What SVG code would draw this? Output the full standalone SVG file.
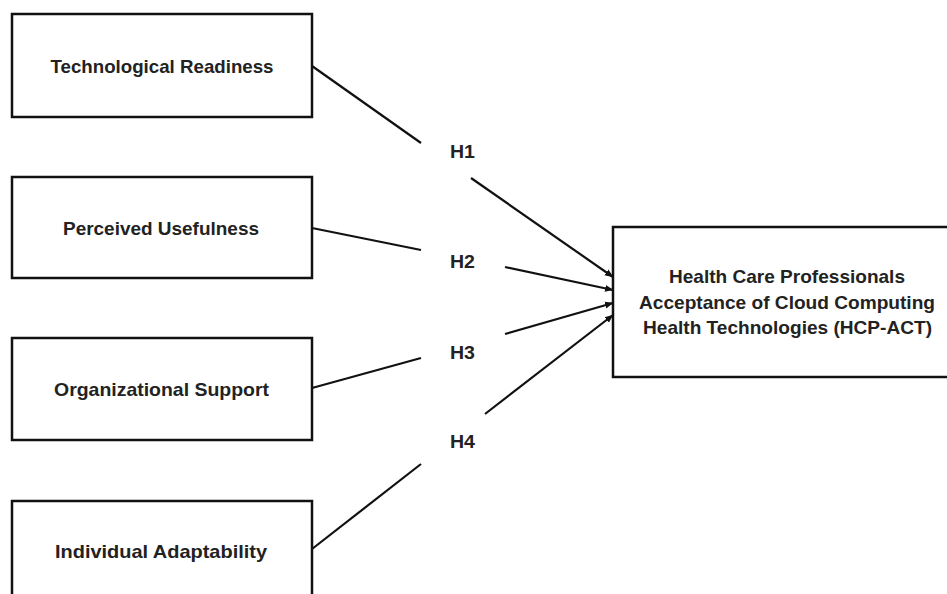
<svg xmlns="http://www.w3.org/2000/svg" width="947" height="594" viewBox="0 0 947 594">
<style>
.box{fill:#fff;stroke:#111;stroke-width:2.5}
.t{font-family:"Liberation Sans",Arial,sans-serif;font-weight:bold;font-size:19px;fill:#222;text-anchor:middle}
.h{font-family:"Liberation Sans",Arial,sans-serif;font-weight:bold;font-size:18px;fill:#222}
.c{stroke:#111;stroke-width:2.2;fill:none}
</style>
<defs>
<marker id="arr" markerWidth="9" markerHeight="9" refX="8" refY="4.5" orient="auto" markerUnits="userSpaceOnUse">
<path d="M0,1 L8.5,4.5 L0,8 Z" fill="#111"/>
</marker>
</defs>
<rect width="947" height="594" fill="#fff"/>
<g id="n1">
<rect class="box" x="12" y="14" width="300" height="103"/>
<text class="t" x="162" y="73" textLength="223" lengthAdjust="spacingAndGlyphs">Technological Readiness</text>
</g>
<g id="n2">
<rect class="box" x="12" y="177" width="300" height="101"/>
<text class="t" x="161" y="235" textLength="196" lengthAdjust="spacingAndGlyphs">Perceived Usefulness</text>
</g>
<g id="n3">
<rect class="box" x="12" y="338" width="300" height="102"/>
<text class="t" x="161.5" y="396" textLength="215" lengthAdjust="spacingAndGlyphs">Organizational Support</text>
</g>
<g id="n4">
<rect class="box" x="12" y="501" width="300" height="110"/>
<text class="t" x="161" y="558" textLength="212" lengthAdjust="spacingAndGlyphs">Individual Adaptability</text>
</g>
<g id="n5">
<rect class="box" x="613" y="227" width="350" height="150"/>
<text class="t" x="787" y="283" textLength="236" lengthAdjust="spacingAndGlyphs">Health Care Professionals</text>
<text class="t" x="787" y="309" textLength="296" lengthAdjust="spacingAndGlyphs">Acceptance of Cloud Computing</text>
<text class="t" x="787.5" y="334" textLength="289" lengthAdjust="spacingAndGlyphs">Health Technologies (HCP-ACT)</text>
</g>
<g id="connectors">
<line class="c" x1="312" y1="66" x2="421" y2="143"/>
<line class="c" x1="471" y1="178" x2="613" y2="277" marker-end="url(#arr)"/>
<line class="c" x1="312" y1="228" x2="421" y2="250"/>
<line class="c" x1="505" y1="267" x2="613" y2="290" marker-end="url(#arr)"/>
<line class="c" x1="312" y1="388" x2="421" y2="358"/>
<line class="c" x1="505" y1="334" x2="613" y2="303" marker-end="url(#arr)"/>
<line class="c" x1="312" y1="549" x2="421" y2="464"/>
<line class="c" x1="485" y1="414" x2="613" y2="315" marker-end="url(#arr)"/>
</g>
<g id="labels">
<text class="h" x="450" y="158" textLength="25" lengthAdjust="spacingAndGlyphs">H1</text>
<text class="h" x="450" y="268" textLength="25" lengthAdjust="spacingAndGlyphs">H2</text>
<text class="h" x="450" y="359" textLength="25" lengthAdjust="spacingAndGlyphs">H3</text>
<text class="h" x="450" y="448" textLength="25" lengthAdjust="spacingAndGlyphs">H4</text>
</g>
</svg>
